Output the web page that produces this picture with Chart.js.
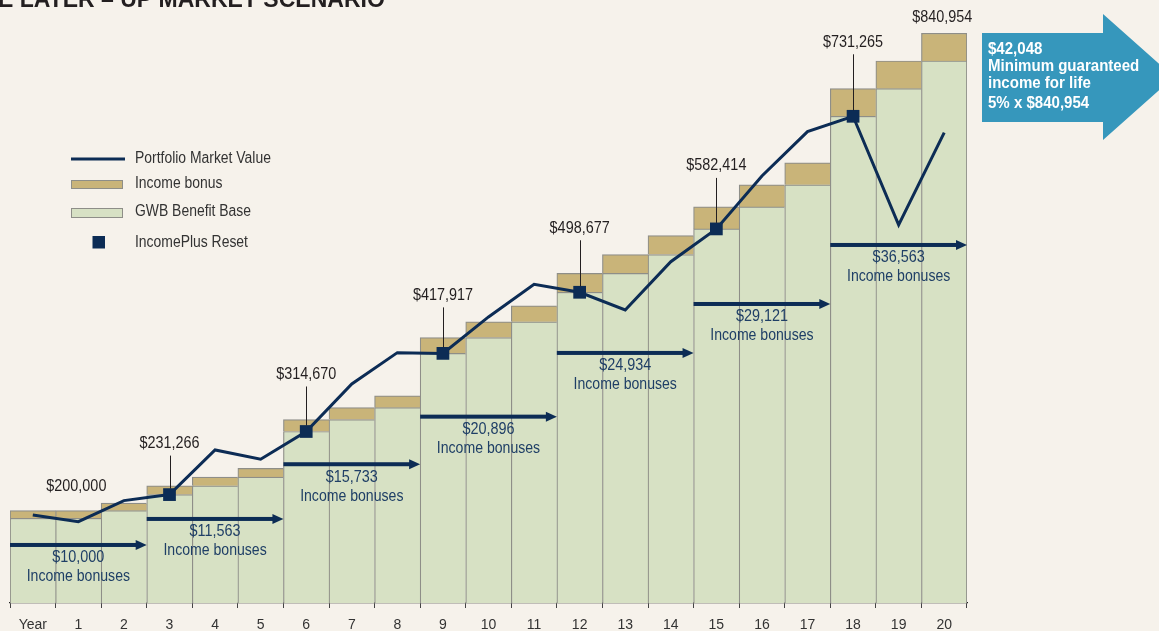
<!DOCTYPE html>
<html>
<head>
<meta charset="utf-8">
<title>Income later – up market scenario</title>
<script src="https://cdn.jsdelivr.net/npm/chart.js"></script>
<style>
  html, body { margin: 0; padding: 0; background: #f6f2eb; }
  #wrap { position: relative; width: 1159px; height: 631px; overflow: hidden; }
  canvas { display: block; }
</style>
</head>
<body>
<div id="wrap"><canvas id="chart" width="1159" height="631"></canvas></div>
<script>
// ---- data ----
const years = ['Year', '1', '2', '3', '4', '5', '6', '7', '8', '9', '10',
  '11', '12', '13', '14', '15', '16', '17', '18', '19', '20'];
const benefitBase = [200000, 200000, 210000, 231266, 242829, 254392, 314670, 330403, 346136, 417917, 438813,
  459709, 498677, 523611, 548545, 582414, 611535, 640656, 731265, 767828, 804391];
const incomeBonus = [10000, 10000, 10000, 11563, 11563, 11563, 15733, 15733, 15733, 20896, 20896,
  20896, 24934, 24934, 24934, 29121, 29121, 29121, 36563, 36563, 36563];
const marketValue = [204400, 195500, 223300, 231266, 290300, 278000, 314670, 377500, 418900, 417917, 466100,
  509300, 498677, 475300, 539100, 582414, 652400, 711000, 731265, 587700, 709600];
const resetYears = [3, 6, 9, 12, 15, 18];
const bonusStartYears = [0, 3, 6, 9, 12, 15, 18];
const bonusAmounts = [10000, 11563, 15733, 20896, 24934, 29121, 36563];
const startValue = 200000;
const finalBase = 840954;
const guaranteedIncome = 42048;

// ---- layout (annotation placement, not data) ----
const arrowLevels = [164700, 199100, 271400, 334300, 418500, 483200, 561200];
const labelLift = [51, 57, 58, 64, 63, 74];

const NAVY = '#0c2c55';
const GREEN = '#d7e1c4';
const TAN = '#c9b479';
const EDGE = '#8e8e88';
const TEXT = '#231f20';
const BONUS_TEXT = '#1f3f66';
const BOX = '#3697bc';
const FAMILY = '"Liberation Sans", Arial, sans-serif';
const font = (size, weight) => `${weight || 'normal'} ${size}px ${FAMILY}`;
const money = v => '$' + v.toLocaleString('en-US');

// condensed-looking text: draw a taller font squeezed horizontally
function squeezed(ctx, str, x, y, size, sx, weight) {
  ctx.save();
  ctx.translate(x, y);
  ctx.scale(sx, 1);
  ctx.font = font(size, weight);
  ctx.fillText(str, 0, 0);
  ctx.restore();
}

const resetPoints = years.map((_, i) => resetYears.includes(i) ? marketValue[i] : null);
const last = years.length - 1;
const edges = ctx => ({ top: 1.2, left: 1.2, right: ctx.dataIndex === last ? 1.2 : 0, bottom: 0 });

const annotations = {
  id: 'annotations',
  afterDatasetsDraw(chart) {
    const { ctx, scales: { x, y } } = chart;
    const step = x.getPixelForValue(1) - x.getPixelForValue(0);
    ctx.save();
    ctx.textAlign = 'center';
    ctx.textBaseline = 'middle';

    // income bonus arrows
    bonusStartYears.forEach((start, i) => {
      const x0 = x.getPixelForValue(start) - step / 2;
      const x1 = x.getPixelForValue(start + 2) + step / 2;
      const ay = y.getPixelForValue(arrowLevels[i]);
      ctx.fillStyle = NAVY;
      ctx.fillRect(x0, ay - 2, x1 - x0 - 9, 4);
      ctx.beginPath();
      ctx.moveTo(x1 - 11, ay - 5);
      ctx.lineTo(x1, ay);
      ctx.lineTo(x1 - 11, ay + 5);
      ctx.closePath();
      ctx.fill();
      const cx = x.getPixelForValue(start + 1);
      ctx.fillStyle = BONUS_TEXT;
      squeezed(ctx, money(bonusAmounts[i]), cx, ay + 13, 16, 0.9);
      squeezed(ctx, 'Income bonuses', cx, ay + 32, 16, 0.88);
    });

    // reset values with leader lines
    ctx.fillStyle = TEXT;
    ctx.strokeStyle = TEXT;
    ctx.lineWidth = 1;
    resetYears.forEach((yr, i) => {
      const px = x.getPixelForValue(yr);
      const py = y.getPixelForValue(marketValue[yr]);
      const ly = py - labelLift[i];
      squeezed(ctx, money(marketValue[yr]), px, ly, 16, 0.9);
      ctx.beginPath();
      ctx.moveTo(Math.round(px) + 0.5, ly + 12);
      ctx.lineTo(Math.round(px) + 0.5, py - 6);
      ctx.stroke();
    });

    // start and end values
    squeezed(ctx, money(startValue), x.getPixelForValue(1) - 2,
      y.getPixelForValue(benefitBase[1] + incomeBonus[1]) - 24, 16, 0.9);
    squeezed(ctx, money(finalBase), x.getPixelForValue(last) - 2,
      y.getPixelForValue(benefitBase[last] + incomeBonus[last]) - 16, 16, 0.9);

    // legend
    ctx.textAlign = 'left';
    ctx.fillStyle = NAVY;
    ctx.fillRect(71, 157.5, 54, 3);
    ctx.fillStyle = TAN;
    ctx.strokeStyle = EDGE;
    ctx.fillRect(71, 180, 52, 9);
    ctx.strokeRect(71.5, 180.5, 51, 8);
    ctx.fillStyle = GREEN;
    ctx.fillRect(71, 208, 52, 10);
    ctx.strokeRect(71.5, 208.5, 51, 9);
    ctx.fillStyle = NAVY;
    ctx.fillRect(92.5, 236, 12.5, 12.5);
    ctx.fillStyle = '#333';
    squeezed(ctx, 'Portfolio Market Value', 135, 159, 16, 0.87);
    squeezed(ctx, 'Income bonus', 135, 184, 16, 0.87);
    squeezed(ctx, 'GWB Benefit Base', 135, 212, 16, 0.87);
    squeezed(ctx, 'IncomePlus Reset', 135, 243, 16, 0.87);
    ctx.restore();
  },
  afterDraw(chart) {
    const { ctx } = chart;
    ctx.save();
    // title (cut off at top)
    ctx.fillStyle = TEXT;
    ctx.textAlign = 'left';
    ctx.textBaseline = 'alphabetic';
    squeezed(ctx, 'E LATER – UP MARKET SCENARIO', -2, 7, 23, 1, 'bold');

    // guaranteed income arrow box
    ctx.fillStyle = BOX;
    ctx.beginPath();
    ctx.moveTo(982, 33);
    ctx.lineTo(1103, 33);
    ctx.lineTo(1103, 14);
    ctx.lineTo(1174, 77);
    ctx.lineTo(1103, 140);
    ctx.lineTo(1103, 122);
    ctx.lineTo(982, 122);
    ctx.closePath();
    ctx.fill();
    ctx.fillStyle = '#ffffff';
    ctx.textBaseline = 'middle';
    squeezed(ctx, money(guaranteedIncome), 988, 50, 16, 0.94, 'bold');
    squeezed(ctx, 'Minimum guaranteed', 988, 67, 16, 0.94, 'bold');
    squeezed(ctx, 'income for life', 988, 84, 16, 0.94, 'bold');
    squeezed(ctx, '5% x ' + money(finalBase), 988, 104, 16, 0.94, 'bold');
    ctx.restore();
  }
};

new Chart(document.getElementById('chart'), {
  type: 'bar',
  data: {
    labels: years,
    datasets: [
      {
        type: 'line', label: 'IncomePlus Reset', data: resetPoints, stack: 'reset',
        showLine: false, pointStyle: 'rect', pointRadius: 9, pointBorderWidth: 0,
        pointBackgroundColor: NAVY, order: 0
      },
      {
        type: 'line', label: 'Portfolio Market Value', data: marketValue, stack: 'market',
        borderColor: NAVY, borderWidth: 3, pointRadius: 0, tension: 0, order: 1
      },
      {
        label: 'GWB Benefit Base', data: benefitBase, stack: 'gwb',
        backgroundColor: GREEN, borderColor: EDGE, borderWidth: edges, borderSkipped: false,
        barPercentage: 1, categoryPercentage: 1, order: 2
      },
      {
        label: 'Income bonus', data: incomeBonus, stack: 'gwb',
        backgroundColor: TAN, borderColor: EDGE, borderWidth: edges, borderSkipped: false,
        barPercentage: 1, categoryPercentage: 1, order: 2
      }
    ]
  },
  options: {
    responsive: false,
    animation: false,
    layout: { autoPadding: false, padding: { left: 10, right: 192, top: 3, bottom: 0 } },
    plugins: { legend: { display: false }, tooltip: { enabled: false } },
    scales: {
      x: {
        stacked: true,
        grid: { offset: true, drawOnChartArea: false, tickLength: 5, color: '#444', lineWidth: 1 },
        border: { color: '#222', width: 1.3 },
        ticks: { color: '#333', font: { family: FAMILY, size: 14 }, padding: 9, maxRotation: 0, autoSkip: false },
        afterFit: s => { s.height = 28; }
      },
      y: { display: false, stacked: true, min: 88000, max: 881000 }
    }
  },
  plugins: [annotations]
});
</script>
</body>
</html>
